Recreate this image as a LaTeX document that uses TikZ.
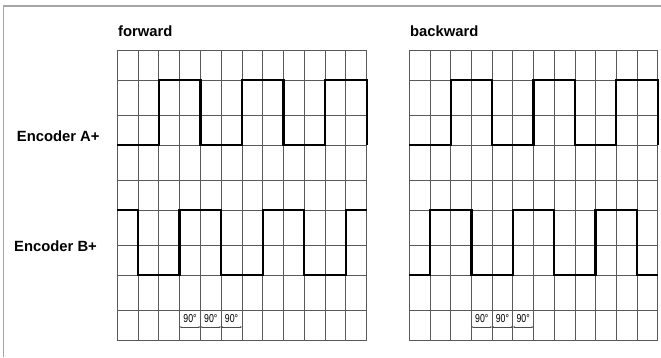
\documentclass[tikz,border=0pt]{standalone}
\usepackage{fontspec}
\setmainfont{Liberation Sans}
\usetikzlibrary{arrows.meta}

\tikzset{
  gridline/.style={black!65,line width=0.8pt},
  signal/.style={black,line width=2.3pt,line join=miter},
  dimline/.style={black!70,line width=0.4pt,{Stealth[length=2pt,width=1.6pt]}-{Stealth[length=2pt,width=1.6pt]}},
  title/.style={font=\bfseries\fontsize{14.8}{17}\selectfont,anchor=base west,inner sep=0pt},
  deg/.style={font=\fontsize{11.5}{12}\selectfont,inner sep=0pt}
}

\begin{document}
\begin{tikzpicture}[x=1pt,y=-1pt]
\useasboundingbox (0,0) rectangle (661,357);
\draw[gray!70,line width=1.2pt] (3.7,357) -- (3.7,6) -- (661,6);

% both panels: grid, channel A and the 90 degree marks
\foreach \xo/\dx/\nm in {117.3/20.78/f, 409.3/20.7/b} {
  \foreach \i in {0,...,12}
    \draw[gridline] (\xo+\i*\dx,50) -- (\xo+\i*\dx,340);
  \foreach \y in {50,80,115.5,145,180.5,210,245.5,275,310.5,340}
    \draw[gridline] (\xo,\y) -- (\xo+12*\dx,\y);
  \draw[signal] (\xo,145) -| (\xo+2*\dx,80) -| (\xo+4*\dx,145) -| (\xo+6*\dx,80)
    -| (\xo+8*\dx,145) -| (\xo+10*\dx,80) -| (\xo+12*\dx,145);
  \foreach \k in {3,4,5} {
    \node[deg] (\nm deg\k) at (\xo+\k*\dx+0.5*\dx,318.5) {\scalebox{0.76}[1]{90°}};
    \draw[dimline] (\xo+\k*\dx,327) -- (\xo+\k*\dx+\dx,327);
  }
}

% channel B, forward
\draw[signal] (117.3,210) -| (117.3+1*20.78,275) -| (117.3+3*20.78,210) -| (117.3+5*20.78,275)
  -| (117.3+7*20.78,210) -| (117.3+9*20.78,275) -| (117.3+11*20.78,210) -- (117.3+12*20.78,210);
% channel B, backward
\draw[signal] (409.3,275) -| (409.3+1*20.7,210) -| (409.3+3*20.7,275) -| (409.3+5*20.7,210)
  -| (409.3+7*20.7,275) -| (409.3+9*20.7,210) -| (409.3+11*20.7,275) -- (409.3+12*20.7,275);

\node[title] (fwd) at (118,36) {forward};
\node[title] (bwd) at (410,36) {backward};
\node[title] (encA) at (16.7,141) {Encoder A+};
\node[title] (encB) at (14,251) {Encoder B+};
\end{tikzpicture}
\end{document}
